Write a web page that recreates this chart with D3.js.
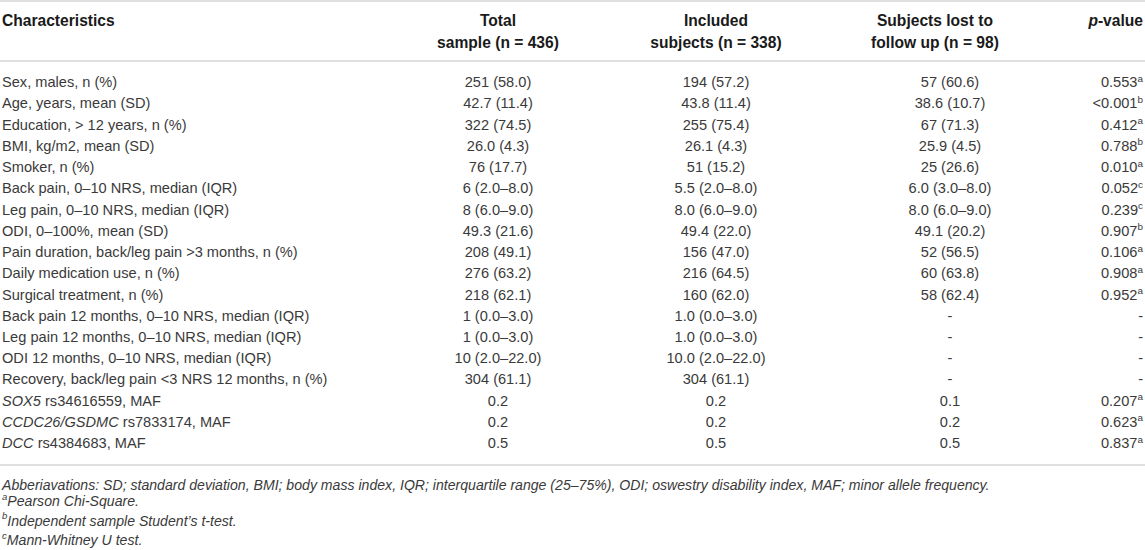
<!DOCTYPE html>
<html>
<head>
<meta charset="utf-8">
<script src="https://cdn.jsdelivr.net/npm/d3@7"></script>
<style>
  html, body { margin: 0; padding: 0; background: #fff; }
  svg { display: block; font-family: "Liberation Sans", Arial, Helvetica, sans-serif; }
</style>
</head>
<body>
<svg id="chart" width="1145" height="550"></svg>
<script>
// ---------- data ----------
const headers = [
  ["Characteristics"],
  ["Total", "sample (n = 436)"],
  ["Included", "subjects (n = 338)"],
  ["Subjects lost to", "follow up (n = 98)"],
  ["p-value"]
];
// label parts: [italic prefix, plain rest]
const characteristics = [
  ["", "Sex, males, n (%)"],
  ["", "Age, years, mean (SD)"],
  ["", "Education, > 12 years, n (%)"],
  ["", "BMI, kg/m2, mean (SD)"],
  ["", "Smoker, n (%)"],
  ["", "Back pain, 0–10 NRS, median (IQR)"],
  ["", "Leg pain, 0–10 NRS, median (IQR)"],
  ["", "ODI, 0–100%, mean (SD)"],
  ["", "Pain duration, back/leg pain >3 months, n (%)"],
  ["", "Daily medication use, n (%)"],
  ["", "Surgical treatment, n (%)"],
  ["", "Back pain 12 months, 0–10 NRS, median (IQR)"],
  ["", "Leg pain 12 months, 0–10 NRS, median (IQR)"],
  ["", "ODI 12 months, 0–10 NRS, median (IQR)"],
  ["", "Recovery, back/leg pain <3 NRS 12 months, n (%)"],
  ["SOX5", " rs34616559, MAF"],
  ["CCDC26/GSDMC", " rs7833174, MAF"],
  ["DCC", " rs4384683, MAF"]
];
const totalSample = ["251 (58.0)","42.7 (11.4)","322 (74.5)","26.0 (4.3)","76 (17.7)","6 (2.0–8.0)","8 (6.0–9.0)","49.3 (21.6)","208 (49.1)","276 (63.2)","218 (62.1)","1 (0.0–3.0)","1 (0.0–3.0)","10 (2.0–22.0)","304 (61.1)","0.2","0.2","0.5"];
const includedSubjects = ["194 (57.2)","43.8 (11.4)","255 (75.4)","26.1 (4.3)","51 (15.2)","5.5 (2.0–8.0)","8.0 (6.0–9.0)","49.4 (22.0)","156 (47.0)","216 (64.5)","160 (62.0)","1.0 (0.0–3.0)","1.0 (0.0–3.0)","10.0 (2.0–22.0)","304 (61.1)","0.2","0.2","0.5"];
const lostToFollowUp = ["57 (60.6)","38.6 (10.7)","67 (71.3)","25.9 (4.5)","25 (26.6)","6.0 (3.0–8.0)","8.0 (6.0–9.0)","49.1 (20.2)","52 (56.5)","60 (63.8)","58 (62.4)","-","-","-","-","0.1","0.2","0.5"];
const pValues = ["0.553","<0.001","0.412","0.788","0.010","0.052","0.239","0.907","0.106","0.908","0.952","-","-","-","-","0.207","0.623","0.837"];
const pTests = ["a","b","a","b","a","c","c","b","a","a","a","","","","","a","a","a"];
const footnotes = [
  ["", "Abberiavations: SD; standard deviation, BMI; body mass index, IQR; interquartile range (25–75%), ODI; oswestry disability index, MAF; minor allele frequency."],
  ["a", "Pearson Chi-Square."],
  ["b", "Independent sample Student’s t-test."],
  ["c", "Mann-Whitney U test."]
];

// ---------- layout ----------
const W = 1145;
const svg = d3.select("#chart");
const fontSize = 14.6;
const headSize = 15.6;
const footSize = 14.1;
const textCol = "#3a3a3a";
const headCol = "#1a1a1a";
const lineCol = "#d6d6d6";

const rowIdx = d3.range(characteristics.length);
const y = d3.scaleBand().domain(rowIdx).range([71.5, 453.7]).padding(0);
const yc = i => y(i) + y.bandwidth() / 2;

// column anchors
const colX = { label: 2, total: 498, included: 716, lostHead: 935, lost: 950, p: 1143 };

// rules
const rules = [1, 61, 465];
svg.selectAll("line.rule").data(rules).join("line")
  .attr("class", "rule")
  .attr("x1", 0).attr("x2", W)
  .attr("y1", d => d).attr("y2", d => d)
  .attr("stroke", lineCol).attr("stroke-width", 1.6);

// headers
const headPos = [
  { x: colX.label, anchor: "start" },
  { x: colX.total, anchor: "middle" },
  { x: colX.included, anchor: "middle" },
  { x: colX.lostHead, anchor: "middle" },
  { x: colX.p, anchor: "end" }
];
const headLineY = [20.5, 43];
headers.forEach((h, ci) => {
  h.forEach((t, li) => {
    const tx = svg.append("text")
      .attr("x", headPos[ci].x).attr("y", headLineY[li])
      .attr("dy", "0.35em")
      .attr("text-anchor", headPos[ci].anchor)
      .attr("font-weight", "bold")
      .attr("font-size", headSize)
      .attr("fill", headCol);
    if (t === "p-value") {
      tx.append("tspan").attr("font-style", "italic").text("p");
      tx.append("tspan").text("-value");
    } else {
      tx.text(t);
    }
  });
});

// body rows
const rows = svg.selectAll("g.row").data(rowIdx).join("g").attr("class", "row");

rows.append("text")
  .attr("x", colX.label).attr("y", i => yc(i)).attr("dy", "0.35em")
  .attr("font-size", fontSize).attr("fill", textCol)
  .each(function(i) {
    const [it, rest] = characteristics[i];
    const s = d3.select(this);
    if (it) s.append("tspan").attr("font-style", "italic").text(it);
    s.append("tspan").text(rest);
  });

const simpleCols = [
  { arr: totalSample, x: colX.total },
  { arr: includedSubjects, x: colX.included },
  { arr: lostToFollowUp, x: colX.lost }
];
simpleCols.forEach(c => {
  rows.append("text")
    .attr("x", c.x).attr("y", i => yc(i)).attr("dy", "0.35em")
    .attr("text-anchor", "middle")
    .attr("font-size", fontSize).attr("fill", textCol)
    .text(i => c.arr[i]);
});

rows.append("text")
  .attr("x", colX.p).attr("y", i => yc(i)).attr("dy", "0.35em")
  .attr("text-anchor", "end")
  .attr("font-size", fontSize).attr("fill", textCol)
  .each(function(i) {
    const s = d3.select(this);
    s.append("tspan").text(pValues[i]);
    if (pTests[i]) {
      s.append("tspan").attr("font-size", fontSize * 0.68).attr("dy", "-0.55em").text(pTests[i]);
    }
  });

// footnotes
const fy = d3.scalePoint().domain(d3.range(footnotes.length)).range([485, 543]);
footnotes.forEach((f, i) => {
  const t = svg.append("text")
    .attr("x", colX.label).attr("y", fy(i)).attr("dy", "0.35em")
    .attr("font-size", footSize).attr("font-style", "italic").attr("fill", textCol);
  if (f[0]) {
    t.append("tspan").attr("font-size", footSize * 0.68).attr("dy", "-0.45em").text(f[0]);
    t.append("tspan").attr("dy", "0.45em").text(f[1]);
  } else {
    t.text(f[1]);
  }
});
</script>
</body>
</html>
